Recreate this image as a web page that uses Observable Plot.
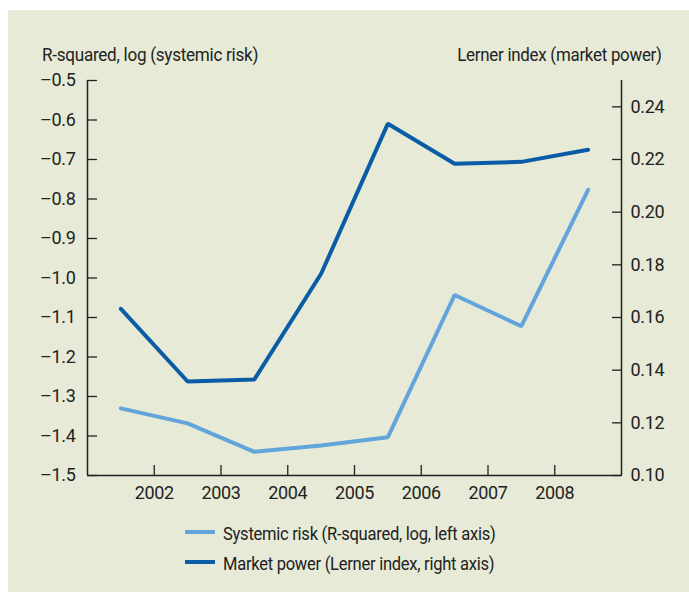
<!DOCTYPE html>
<html>
<head>
<meta charset="utf-8">
<script src="https://cdn.jsdelivr.net/npm/d3@7"></script>
<script src="https://cdn.jsdelivr.net/npm/@observablehq/plot@0.6"></script>
<style>
  html, body { margin: 0; padding: 0; background: #ffffff; }
  body { width: 689px; height: 595px; position: relative; overflow: hidden; }
  #panel { position: absolute; left: 8px; top: 10px; width: 681px; height: 582px; background: #e6ead6; }
  .t { position: absolute; font-family: Roboto, sans-serif; font-size: 19px; line-height: 19px; color: #222; white-space: nowrap; letter-spacing: -0.3px; }
  .sl { transform-origin: left center; }
  .sr { transform-origin: right center; }
  .sw { position: absolute; height: 4px; width: 30px; }
  #chart { position: absolute; left: 0; top: 0; }
</style>
</head>
<body>
<div id="panel">
  <div id="chart"></div>
  <div class="t sl" id="ltitle" style="left:34px; top:35px; transform: scaleX(0.9);"></div>
  <div class="t sr" id="rtitle" style="right:27px; top:35px; transform: scaleX(0.89);"></div>
  <div class="sw" id="sw1" style="left:177px; top:520px;"></div>
  <div class="t sl" id="lg1" style="left:215px; top:514px; transform: scaleX(0.87);"></div>
  <div class="sw" id="sw2" style="left:177px; top:550px;"></div>
  <div class="t sl" id="lg2" style="left:215px; top:544px; transform: scaleX(0.87);"></div>
</div>
<script>
// ---- data ----
const years = [2001.5, 2002.5, 2003.5, 2004.5, 2005.5, 2006.5, 2007.5, 2008.5];
const systemicRisk = [-1.330, -1.368, -1.440, -1.424, -1.403, -1.043, -1.122, -0.777];
const marketPower = [0.1633, 0.1357, 0.1365, 0.1766, 0.2336, 0.2184, 0.2191, 0.2237];
const yearTicks = [2002, 2003, 2004, 2005, 2006, 2007, 2008];
const leftTicks = [-1.5, -1.4, -1.3, -1.2, -1.1, -1.0, -0.9, -0.8, -0.7, -0.6, -0.5];
const rightTicks = [0.10, 0.12, 0.14, 0.16, 0.18, 0.20, 0.22, 0.24];
const xDomain = [2001, 2009];
const leftDomain = [-1.5, -0.5];
const rightDomain = [0.10, 0.25];
const leftTitle = "R-squared, log (systemic risk)";
const rightTitle = "Lerner index (market power)";
const seriesNames = ["Systemic risk (R-squared, log, left axis)", "Market power (Lerner index, right axis)"];
const colors = ["#62a4dc", "#0a5ca6"];

// ---- helpers ----
const toLeft = d3.scaleLinear().domain(rightDomain).range(leftDomain);
const fmtL = d => d3.format(".1f")(d).replace("\u2212", "\u2013");
const fmtR = d3.format(".2f");

const riskData = years.map((x, i) => ({x, y: systemicRisk[i]}));
const powerData = years.map((x, i) => ({x, y: toLeft(marketPower[i])}));

const axisColor = "#222";

const chart = Plot.plot({
  width: 681,
  height: 500,
  marginLeft: 79,
  marginRight: 68,
  marginTop: 70,
  marginBottom: 35,
  style: { fontFamily: "Roboto, sans-serif", fontSize: "18px", background: "transparent", color: axisColor, letterSpacing: "-0.3px" },
  x: { domain: xDomain },
  y: { domain: leftDomain },
  marks: [
    Plot.axisX(yearTicks, { tickSize: -10, tickPadding: 21, tickFormat: d => String(d), stroke: axisColor, label: null, strokeWidth: 1.3 }),
    Plot.axisY(leftTicks, { anchor: "left", tickSize: -10, tickPadding: 22, tickFormat: fmtL, label: null, strokeWidth: 1.3 }),
    Plot.axisY(rightTicks.map(toLeft), { anchor: "right", tickSize: -10, tickPadding: 19, tickFormat: d => fmtR(toLeft.invert(d)), label: null, strokeWidth: 1.3 }),
    Plot.ruleX(xDomain, { stroke: axisColor, strokeWidth: 1.5 }),
    Plot.ruleY([leftDomain[0]], { stroke: axisColor, strokeWidth: 1.5 }),
    Plot.line(riskData, { x: "x", y: "y", stroke: colors[0], strokeWidth: 4, strokeLinejoin: "miter" }),
    Plot.line(powerData, { x: "x", y: "y", stroke: colors[1], strokeWidth: 4, strokeLinejoin: "miter" })
  ]
});
document.getElementById("chart").appendChild(chart);

document.getElementById("ltitle").textContent = leftTitle;
document.getElementById("rtitle").textContent = rightTitle;
document.getElementById("lg1").textContent = seriesNames[0];
document.getElementById("lg2").textContent = seriesNames[1];
document.getElementById("sw1").style.background = colors[0];
document.getElementById("sw2").style.background = colors[1];
</script>
</body>
</html>
